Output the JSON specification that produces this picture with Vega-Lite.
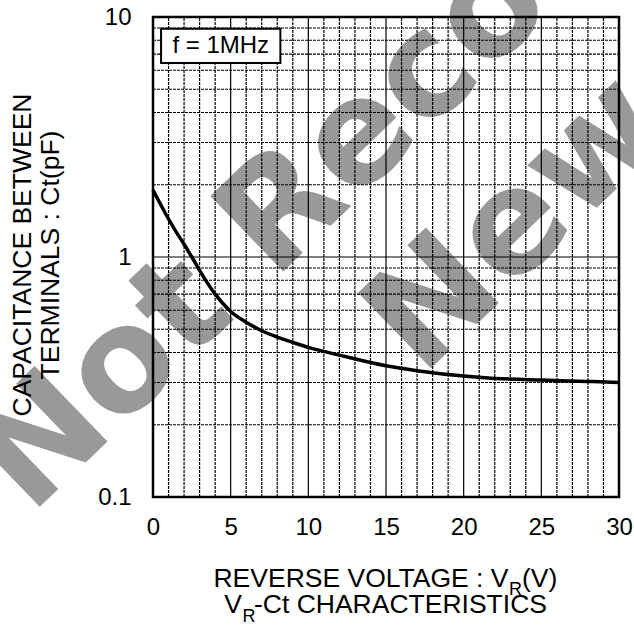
{
  "$schema": "https://vega.github.io/schema/vega-lite/v6.json",
  "width": 466,
  "height": 480,
  "autosize": {"type": "none"},
  "padding": {"left": 153, "top": 17, "right": 15, "bottom": 130},
  "background": "white",
  "config": {"view": {"stroke": null}, "text": {"font": "Liberation Sans", "color": "#000"}},
  "datasets": {
    "curve": [
      {"V": 0, "C": 1.9}, {"V": 0.5, "C": 1.65}, {"V": 1, "C": 1.44}, {"V": 1.5, "C": 1.27},
      {"V": 2, "C": 1.13}, {"V": 2.5, "C": 1.0}, {"V": 3, "C": 0.88}, {"V": 3.5, "C": 0.78},
      {"V": 4, "C": 0.70}, {"V": 4.5, "C": 0.64}, {"V": 5, "C": 0.593}, {"V": 6, "C": 0.535},
      {"V": 7, "C": 0.493}, {"V": 8, "C": 0.464}, {"V": 9, "C": 0.441}, {"V": 10, "C": 0.42},
      {"V": 12, "C": 0.39}, {"V": 15, "C": 0.352}, {"V": 17, "C": 0.336}, {"V": 20, "C": 0.319},
      {"V": 22, "C": 0.312}, {"V": 25, "C": 0.307}, {"V": 28, "C": 0.303}, {"V": 30, "C": 0.30}
    ],
    "one": [{}],
    "xminor": [
      {"v": 1}, {"v": 2}, {"v": 3}, {"v": 4}, {"v": 6}, {"v": 7}, {"v": 8}, {"v": 9},
      {"v": 11}, {"v": 12}, {"v": 13}, {"v": 14}, {"v": 16}, {"v": 17}, {"v": 18}, {"v": 19},
      {"v": 21}, {"v": 22}, {"v": 23}, {"v": 24}, {"v": 26}, {"v": 27}, {"v": 28}, {"v": 29}
    ],
    "xmajor": [{"v": 5}, {"v": 10}, {"v": 15}, {"v": 20}, {"v": 25}],
    "yminor": [
      {"v": 0.2}, {"v": 0.3}, {"v": 0.4}, {"v": 0.5}, {"v": 0.6}, {"v": 0.7}, {"v": 0.8}, {"v": 0.9},
      {"v": 2}, {"v": 3}, {"v": 4}, {"v": 5}, {"v": 6}, {"v": 7}, {"v": 8}, {"v": 9}
    ],
    "ymajor": [{"v": 1}]
  },
  "data": {"name": "one"},
  "layer": [
    {
      "mark": {"type": "text", "text": "Not Recommended", "angle": 316, "align": "left", "baseline": "alphabetic", "font": "DejaVu Sans", "fontWeight": "bold", "fontSize": 144, "color": "#999999"},
      "encoding": {"x": {"datum": -7.9, "type": "quantitative", "title": null}, "y": {"datum": 0.0834, "type": "quantitative", "title": null}}
    },
    {
      "mark": {"type": "text", "text": "New Designs", "angle": 316, "align": "left", "baseline": "alphabetic", "font": "DejaVu Sans", "fontWeight": "bold", "fontSize": 144, "color": "#999999"},
      "encoding": {"x": {"datum": 17.28, "type": "quantitative", "title": null}, "y": {"datum": 0.315, "type": "quantitative", "title": null}}
    },
    {
      "data": {"name": "xminor"},
      "mark": {"type": "rule", "color": "#000", "strokeWidth": 1.2, "strokeDash": [3, 1]},
      "encoding": {
        "x": {"field": "v", "type": "quantitative", "title": null},
        "y": {"datum": 0.1, "type": "quantitative", "title": null},
        "y2": {"datum": 10}
      }
    },
    {
      "data": {"name": "yminor"},
      "mark": {"type": "rule", "color": "#000", "strokeWidth": 1.2, "strokeDash": [3, 1]},
      "encoding": {
        "y": {"field": "v", "type": "quantitative", "title": null},
        "x": {"datum": 0, "type": "quantitative", "title": null},
        "x2": {"datum": 30}
      }
    },
    {
      "data": {"name": "xmajor"},
      "mark": {"type": "rule", "color": "#000", "strokeWidth": 1.2},
      "encoding": {
        "x": {"field": "v", "type": "quantitative", "title": null},
        "y": {"datum": 0.1, "type": "quantitative", "title": null},
        "y2": {"datum": 10}
      }
    },
    {
      "data": {"name": "ymajor"},
      "mark": {"type": "rule", "color": "#000", "strokeWidth": 1.2},
      "encoding": {
        "y": {"field": "v", "type": "quantitative", "title": null},
        "x": {"datum": 0, "type": "quantitative", "title": null},
        "x2": {"datum": 30}
      }
    },
    {
      "data": {"name": "curve"},
      "mark": {"type": "line", "color": "#000", "strokeWidth": 3.5, "interpolate": "monotone"},
      "encoding": {
        "x": {
          "field": "V", "type": "quantitative",
          "scale": {"domain": [0, 30], "nice": false, "zero": false},
          "axis": {"values": [0, 5, 10, 15, 20, 25, 30], "title": null, "tickSize": 0, "domain": false, "grid": false, "labelFontSize": 24, "labelFont": "Liberation Sans", "labelColor": "#000", "labelPadding": 18, "labelFlush": false}
        },
        "y": {
          "field": "C", "type": "quantitative",
          "scale": {"type": "log", "domain": [0.1, 10], "nice": false},
          "axis": {"values": [0.1, 1, 10], "labelExpr": "'' + datum.value", "title": null, "tickSize": 0, "domain": false, "grid": false, "labelFontSize": 24, "labelFont": "Liberation Sans", "labelColor": "#000", "labelPadding": 22}
        }
      }
    },
    {
      "mark": {"type": "rect", "fill": null, "stroke": "#000", "strokeWidth": 2.5},
      "encoding": {
        "x": {"datum": 0, "type": "quantitative", "title": null}, "x2": {"datum": 30},
        "y": {"datum": 0.1, "type": "quantitative", "title": null}, "y2": {"datum": 10}
      }
    },
    {
      "mark": {"type": "rect", "fill": "white", "stroke": "#000", "strokeWidth": 2},
      "encoding": {
        "x": {"datum": 0.52, "type": "quantitative", "title": null}, "x2": {"datum": 8.2},
        "y": {"datum": 6.43, "type": "quantitative", "title": null}, "y2": {"datum": 8.94}
      }
    },
    {
      "mark": {"type": "text", "text": "f = 1MHz", "align": "center", "baseline": "middle", "fontSize": 24},
      "encoding": {"x": {"datum": 4.36, "type": "quantitative", "title": null}, "y": {"datum": 7.57, "type": "quantitative", "title": null}}
    },
    {
      "mark": {"type": "text", "text": "CAPACITANCE BETWEEN", "angle": 270, "align": "center", "baseline": "alphabetic", "fontSize": 26.5},
      "encoding": {"x": {"datum": -7.854, "type": "quantitative", "title": null}, "y": {"datum": 1.0194, "type": "quantitative", "title": null}}
    },
    {
      "mark": {"type": "text", "text": "TERMINALS : Ct(pF)", "angle": 270, "align": "center", "baseline": "alphabetic", "fontSize": 26.5},
      "encoding": {"x": {"datum": -6.02, "type": "quantitative", "title": null}, "y": {"datum": 1.0194, "type": "quantitative", "title": null}}
    },
    {
      "mark": {"type": "text", "text": "REVERSE VOLTAGE : V", "align": "right", "baseline": "alphabetic", "fontSize": 26.5},
      "encoding": {"x": {"datum": 22.887, "type": "quantitative", "title": null}, "y": {"datum": 0.04228, "type": "quantitative", "title": null}}
    },
    {
      "mark": {"type": "text", "text": "R", "align": "left", "baseline": "alphabetic", "fontSize": 18},
      "encoding": {"x": {"datum": 22.919, "type": "quantitative", "title": null}, "y": {"datum": 0.03905, "type": "quantitative", "title": null}}
    },
    {
      "mark": {"type": "text", "text": "(V)", "align": "left", "baseline": "alphabetic", "fontSize": 26.5},
      "encoding": {"x": {"datum": 23.756, "type": "quantitative", "title": null}, "y": {"datum": 0.04228, "type": "quantitative", "title": null}}
    },
    {
      "mark": {"type": "text", "text": "V", "align": "right", "baseline": "alphabetic", "fontSize": 26.5},
      "encoding": {"x": {"datum": 5.73, "type": "quantitative", "title": null}, "y": {"datum": 0.03276, "type": "quantitative", "title": null}}
    },
    {
      "mark": {"type": "text", "text": "R", "align": "left", "baseline": "alphabetic", "fontSize": 18},
      "encoding": {"x": {"datum": 5.762, "type": "quantitative", "title": null}, "y": {"datum": 0.03014, "type": "quantitative", "title": null}}
    },
    {
      "mark": {"type": "text", "text": "-Ct CHARACTERISTICS", "align": "left", "baseline": "alphabetic", "fontSize": 26.5},
      "encoding": {"x": {"datum": 6.5, "type": "quantitative", "title": null}, "y": {"datum": 0.03276, "type": "quantitative", "title": null}}
    }
  ]
}
